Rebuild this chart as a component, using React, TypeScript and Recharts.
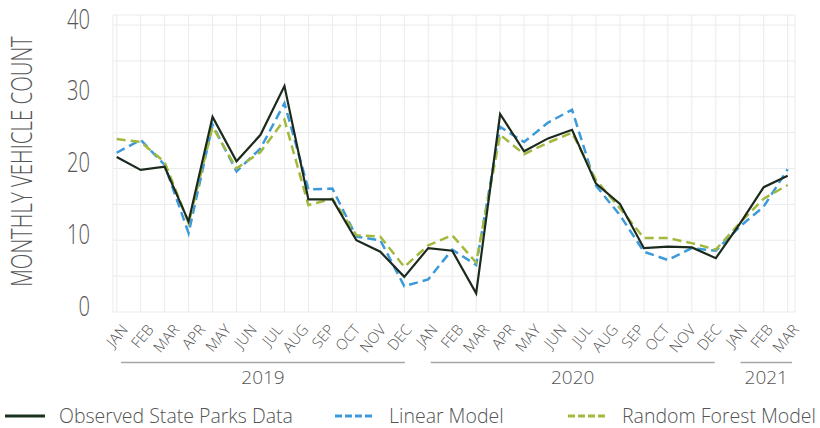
import React from 'react';
import { LineChart, Line, XAxis, YAxis, CartesianGrid, ReferenceLine, Legend } from 'recharts';

// ---- data ----
const observed = [21.6, 19.8, 20.25, 12.6, 27.2, 21.0, 24.7, 31.5, 15.7, 15.7, 10.0, 8.4, 4.9, 8.9, 8.55, 2.6, 27.6, 22.4, 24.2, 25.4, 17.9, 15.05, 8.9, 9.1, 9.0, 7.5, 12.3, 17.4, 19.0];
const linearModel = [22.2, 24.0, 20.5, 11.0, 26.1, 19.6, 22.8, 29.1, 17.1, 17.2, 10.5, 10.0, 3.6, 4.55, 8.7, 6.55, 25.8, 23.7, 26.4, 28.2, 17.6, 13.5, 8.4, 7.25, 8.9, 8.55, 11.9, 14.7, 19.9];
const randomForest = [24.1, 23.7, 20.9, 12.4, 25.8, 20.0, 22.3, 26.8, 14.9, 15.8, 10.7, 10.5, 6.3, 9.3, 10.7, 6.9, 24.7, 22.0, 23.6, 25.0, 18.4, 14.45, 10.3, 10.3, 9.6, 8.7, 12.4, 15.8, 17.7];

const monthLabels = ['JAN', 'FEB', 'MAR', 'APR', 'MAY', 'JUN', 'JUL', 'AUG', 'SEP', 'OCT', 'NOV', 'DEC', 'JAN', 'FEB', 'MAR', 'APR', 'MAY', 'JUN', 'JUL', 'AUG', 'SEP', 'OCT', 'NOV', 'DEC', 'JAN', 'FEB', 'MAR'];
const yearGroups = [
  { year: '2019', first: 0, last: 11 },
  { year: '2020', first: 12, last: 23 },
  { year: '2021', first: 24, last: 26 },
];
const yTicks = [0, 5, 10, 15, 20, 25, 30, 35, 40];
const yLabelTicks = [0, 10, 20, 30, 40];

const rows = observed.map((v, i) => ({ i, observed: v, linear: linearModel[i], forest: randomForest[i] }));
const lastPoint = rows.length - 1;
const pointTicks = rows.map((r) => r.i);
// month labels are spread evenly over the same span as the data points
const monthStep = lastPoint / (monthLabels.length - 1);
const monthTicks = monthLabels.map((_, i) => i * monthStep);

const FONT = '"Open Sans", sans-serif';
const TEXT = '#555555';
const BLACK = '#1c2a1d';
const BLUE = '#3d9ada';
const GREEN = '#a2b93e';

const YTick = (props: any) => {
  const { x, y, payload } = props;
  if (!yLabelTicks.includes(payload.value)) return null;
  return (
    <text
      transform={`translate(${x - 23},${y + 3.5}) scale(0.72,1)`}
      textAnchor="end"
      fontSize={28}
      fontFamily={FONT}
      fontWeight={300}
      fill={TEXT}
    >
      {payload.value}
    </text>
  );
};

const MonthTick = (props: any) => {
  const { x, y, payload } = props;
  const idx = Math.round(payload.value / monthStep);
  return (
    <text
      transform={`translate(${x + 12},${y - 12}) rotate(-50)`}
      textAnchor="end"
      fontSize={15}
      fontFamily={FONT}
      fontWeight={300}
      fill={TEXT}
    >
      {monthLabels[idx]}
    </text>
  );
};

const YTitle = (props: any) => {
  const vb = props.viewBox || { x: 0, y: 15, width: 113, height: 297 };
  const cx = vb.x + 31.7;
  const cy = vb.y + vb.height / 2 - 2;
  return (
    <text
      transform={`translate(${cx},${cy}) rotate(-90) scale(0.68,1)`}
      textAnchor="middle"
      fontSize={30}
      fontFamily={FONT}
      fontWeight={300}
      fill={TEXT}
    >
      MONTHLY VEHICLE COUNT
    </text>
  );
};

const legendItems = [
  { name: 'Observed State Parks Data', color: '#1a3320', dash: undefined as string | undefined, left: 5 },
  { name: 'Linear Model', color: BLUE, dash: '7 3', left: 335 },
  { name: 'Random Forest Model', color: GREEN, dash: '7 3', left: 568 },
];

const LegendContent = () => (
  <div style={{ position: 'relative', width: 820, height: 24 }}>
    {legendItems.map((it) => (
      <div
        key={it.name}
        style={{ position: 'absolute', left: it.left, top: 0, height: 24, display: 'flex', alignItems: 'center', whiteSpace: 'nowrap' }}
      >
        <svg width={40} height={6} style={{ display: 'block' }}>
          <line x1={0} y1={3} x2={40} y2={3} stroke={it.color} strokeWidth={3.2} strokeDasharray={it.dash} />
        </svg>
        <span style={{ marginLeft: 14, fontFamily: FONT, fontWeight: 300, fontSize: 19.5, color: TEXT, lineHeight: '24px' }}>{it.name}</span>
      </div>
    ))}
  </div>
);

export default function App() {
  return (
    <div style={{ position: 'absolute', left: 0, top: 0, width: 820, height: 428, background: '#fff' }}>
      <LineChart width={820} height={428} data={rows} margin={{ top: 15, right: 25, left: 0, bottom: 0 }}>
        <CartesianGrid xAxisId="d" stroke="#ebebeb" strokeWidth={1} />
        <XAxis
          xAxisId="d"
          dataKey="i"
          type="number"
          domain={[0, lastPoint]}
          ticks={pointTicks}
          padding={{ left: 3.7, right: 7.3 }}
          hide
        />
        <XAxis
          xAxisId="m"
          dataKey="i"
          type="number"
          domain={[0, lastPoint]}
          ticks={monthTicks}
          padding={{ left: 3.7, right: 7.3 }}
          height={92}
          axisLine={false}
          tickLine={false}
          tickSize={0}
          tickMargin={0}
          interval={0}
          tick={<MonthTick />}
        />
        <YAxis
          type="number"
          domain={[0, 41.4]}
          allowDataOverflow
          ticks={yTicks}
          width={113}
          axisLine={false}
          tickLine={false}
          tickSize={0}
          tickMargin={0}
          interval={0}
          tick={<YTick />}
          label={<YTitle />}
        />
        {yearGroups.map((g) => (
          <ReferenceLine
            key={g.year}
            xAxisId="m"
            segment={[{ x: (g.first + 0.17) * monthStep, y: -7.05 }, { x: (g.last + 0.17) * monthStep, y: -7.05 }]}
            stroke="#a6a6a6"
            strokeWidth={1.5}
            ifOverflow="visible"
            label={{ value: g.year, position: 'bottom', offset: 8, fill: TEXT, fontSize: 19, fontFamily: FONT, fontWeight: 300 }}
          />
        ))}
        <Line xAxisId="d" type="linear" dataKey="linear" stroke={BLUE} strokeWidth={2.5} strokeDasharray="9 5" dot={false} isAnimationActive={false} />
        <Line xAxisId="d" type="linear" dataKey="forest" stroke={GREEN} strokeWidth={2.5} strokeDasharray="9 5" dot={false} isAnimationActive={false} />
        <Line xAxisId="d" type="linear" dataKey="observed" stroke={BLACK} strokeWidth={2.2} dot={false} isAnimationActive={false} />
        <Legend verticalAlign="bottom" content={<LegendContent />} wrapperStyle={{ left: 0, width: 820 }} />
      </LineChart>
    </div>
  );
}
